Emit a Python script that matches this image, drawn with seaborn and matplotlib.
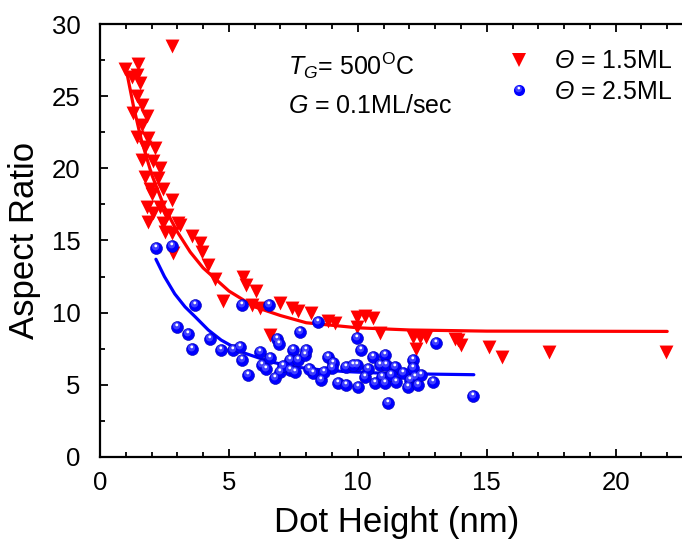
import numpy as np
import matplotlib
matplotlib.use("Agg")
import matplotlib.pyplot as plt
from matplotlib.path import Path
from matplotlib.lines import Line2D
from matplotlib.legend_handler import HandlerTuple
import seaborn as sns

# Theta = 1.5 ML (red triangles)
red_x = [2.78, 0.97, 1.49, 1.42, 1.55, 1.42, 1.62, 1.29, 1.81, 1.62, 1.42, 1.87, 2.13,
         1.62, 2.07, 2.33, 1.74, 2.26, 1.94, 2.45, 2.78, 1.81, 2.33, 2.07, 2.58, 1.87,
         3.03, 2.52, 2.78, 3.55, 3.88, 2.84, 3.94, 4.20, 4.46, 5.55, 5.68, 6.07, 4.78,
         5.88, 6.20, 6.98, 7.43, 7.69, 8.20, 8.85, 9.10, 9.95, 10.27, 10.60, 9.95, 6.59,
         10.85, 12.14, 12.40, 12.66, 12.27, 13.76, 13.89, 14.00, 15.10, 15.60, 17.40,
         21.96, 1.25, 1.75, 2.00, 2.45, 3.10]
red_y = [28.5, 26.9, 27.2, 26.5, 25.9, 25.0, 24.4, 23.8, 23.6, 23.0, 22.2, 22.1, 21.4,
         20.6, 20.5, 20.0, 19.4, 19.3, 18.6, 18.6, 17.8, 17.3, 17.3, 16.9, 16.8, 16.3,
         16.2, 15.6, 15.5, 15.3, 14.8, 14.1, 14.2, 13.3, 12.3, 12.5, 11.9, 11.5, 10.8,
         10.5, 10.3, 10.7, 10.3, 10.1, 10.0, 9.4, 9.3, 9.7, 9.8, 9.6, 9.0, 8.45,
         8.6, 8.3, 8.3, 8.3, 7.5, 8.2, 8.1, 7.75, 7.65, 6.95, 7.3,
         7.3, 26.3, 21.5, 18.2, 16.2, 16.1]

# Theta = 2.5 ML (blue spheres)
blue_x = [2.17, 2.78, 3.68, 2.97, 3.40, 3.58, 4.26, 4.68, 5.17, 5.43, 5.49, 5.75, 5.49,
          6.55, 6.20, 6.27, 6.59, 6.78, 6.85, 6.95, 7.36, 7.50, 6.98, 7.36, 7.69, 7.75,
          7.95, 8.01, 7.56, 8.27, 8.59, 8.46, 8.85, 9.04, 8.98, 9.24, 9.56, 9.56, 9.95,
          10.14, 9.95, 10.27, 10.01, 10.59, 10.66, 9.82, 10.85, 11.05, 11.11, 10.92,
          11.43, 11.05, 11.50, 11.76, 12.02, 11.95, 12.21, 12.14, 12.14, 12.34, 12.47,
          12.92, 13.05, 11.18, 14.47, 6.45, 7.10, 8.10, 8.70, 10.40, 11.30]
blue_y = [14.46, 14.62, 10.53, 8.99, 8.50, 7.46, 8.15, 7.42, 7.42, 7.65, 6.72, 5.68, 10.53,
          10.53, 7.30, 6.38, 6.84, 5.45, 8.18, 7.83, 6.03, 7.42, 5.91, 6.72, 6.72, 8.68,
          7.07, 7.42, 5.91, 5.80, 5.34, 9.38, 6.95, 6.49, 6.14, 5.11, 6.26, 4.99, 8.22,
          7.42, 6.38, 5.57, 4.87, 6.95, 5.11, 6.38, 6.38, 7.07, 6.38, 5.57,
          6.26, 5.11, 5.22, 5.80, 5.34, 4.87, 5.57, 6.72, 6.14, 4.99, 5.68,
          5.22, 7.88, 3.72, 4.23, 6.10, 6.30, 6.10, 5.90, 6.10, 5.70]

# fitted curves
red_fit_x = [1.0, 1.3, 1.6, 2.0, 2.5, 3.0, 3.5, 4.0, 5.0, 6.0, 7.0, 8.0, 10.0, 12.0, 15.0, 22.0]
red_fit_y = [27.0, 24.3, 22.0, 19.6, 17.3, 15.6, 14.2, 13.1, 11.5, 10.4, 9.8, 9.3, 8.95, 8.8, 8.72, 8.7]
blue_fit_x = [2.17, 2.5, 2.9, 3.3, 3.7, 4.2, 4.7, 5.6, 6.6, 7.5, 8.5, 9.5, 11.0, 12.5, 14.5]
blue_fit_y = [13.7, 12.5, 11.3, 10.4, 9.7, 8.8, 8.1, 7.2, 6.6, 6.25, 6.05, 5.92, 5.8, 5.75, 5.7]

sns.set_theme(style="ticks")
plt.rcParams['font.family'] = ['Liberation Sans', 'DejaVu Sans']
plt.rcParams['text.color'] = 'black'
plt.rcParams['axes.labelcolor'] = 'black'
# mathtext sets capital greek in the rm font, so rm is italic here
plt.rcParams['mathtext.fontset'] = 'custom'
plt.rcParams['mathtext.rm'] = 'Liberation Sans:italic'
plt.rcParams['mathtext.it'] = 'Liberation Sans:italic'
plt.rcParams['mathtext.sf'] = 'Liberation Sans'

RED = '#ff0000'
BLUE = '#0000ff'


def disc(cx, cy, r):
    # marker path in a frame where the full sphere has radius 0.5
    t = np.linspace(0, 2 * np.pi, 40)
    verts = [(0.5, 0.5), (-0.5, -0.5)] + list(zip(cx + r * np.cos(t), cy + r * np.sin(t)))
    codes = [Path.MOVETO, Path.MOVETO, Path.MOVETO] + [Path.LINETO] * 38 + [Path.CLOSEPOLY]
    return Path(verts, codes)


glow = disc(-0.08, 0.14, 0.30)
spot = disc(-0.06, 0.22, 0.12)

fig = plt.figure(figsize=(6.82, 5.48), dpi=100)
ax = fig.add_axes([0.1466, 0.1661, 0.8695, 0.7901])

sns.lineplot(x=red_fit_x, y=red_fit_y, ax=ax, color=RED, lw=2.3, sort=False, estimator=None)
sns.lineplot(x=blue_fit_x, y=blue_fit_y, ax=ax, color=BLUE, lw=2.3, sort=False, estimator=None)

sns.scatterplot(x=red_x, y=red_y, ax=ax, marker='v', s=100, color=RED, linewidth=0, zorder=3)
sns.scatterplot(x=blue_x, y=blue_y, ax=ax, marker='o', s=74, color=BLUE,
                edgecolor='#0000b0', linewidth=0.4, zorder=4)
ax.scatter(blue_x, blue_y, marker=glow, s=74, color='#6a6aff', alpha=0.6, linewidth=0, zorder=5)
ax.scatter(blue_x, blue_y, marker=spot, s=74, color='white', linewidth=0, zorder=6)

ax.set_xlim(0, 23)
ax.set_ylim(0, 30)
ax.set_xticks([0, 5, 10, 15, 20])
ax.set_xticks(np.arange(0, 23, 1), minor=True)
ax.set_yticks([0, 5, 10, 15, 20, 25, 30])
ax.set_yticks(np.arange(0, 30.1, 2.5), minor=True)
ax.tick_params(which='both', direction='in', top=True, right=False, width=1.3,
               labelsize=18.5, colors='black')
ax.tick_params(which='major', length=6)
ax.tick_params(which='minor', length=3.5)
ax.tick_params(axis='y', which='major', pad=14)
ax.tick_params(axis='x', which='major', pad=10)
for side in ['left', 'bottom', 'top']:
    ax.spines[side].set_linewidth(1.6)
    ax.spines[side].set_color('black')

ax.set_xlabel('Dot Height (nm)', fontsize=25, labelpad=8, color='black')
ax.set_ylabel('Aspect Ratio', fontsize=25, labelpad=8, color='black')

ax.text(0.317, 0.882, r'$T_G$= 500$^{\mathsf{O}}$C', transform=ax.transAxes, fontsize=18)
ax.text(0.317, 0.794, r'$G$ = 0.1ML/sec', transform=ax.transAxes, fontsize=18)

h_red = Line2D([], [], marker='v', linestyle='', color=RED, markersize=10, markeredgewidth=0)
h_blue = (Line2D([], [], marker='o', linestyle='', color=BLUE, markersize=8, markeredgewidth=0),
          Line2D([], [], marker=glow, linestyle='', color='#6a6aff', alpha=0.6, markersize=8, markeredgewidth=0),
          Line2D([], [], marker=spot, linestyle='', color='white', markersize=8, markeredgewidth=0))
ax.legend([h_red, h_blue], [r'$\Theta$ = 1.5ML', r'$\Theta$ = 2.5ML'],
          handler_map={tuple: HandlerTuple(ndivide=1)},
          loc='upper left', bbox_to_anchor=(0.665, 0.97), frameon=False, fontsize=18,
          handlelength=1.0, handletextpad=0.9, labelspacing=0.25, borderpad=0)

fig.savefig('out.png', dpi=100)
